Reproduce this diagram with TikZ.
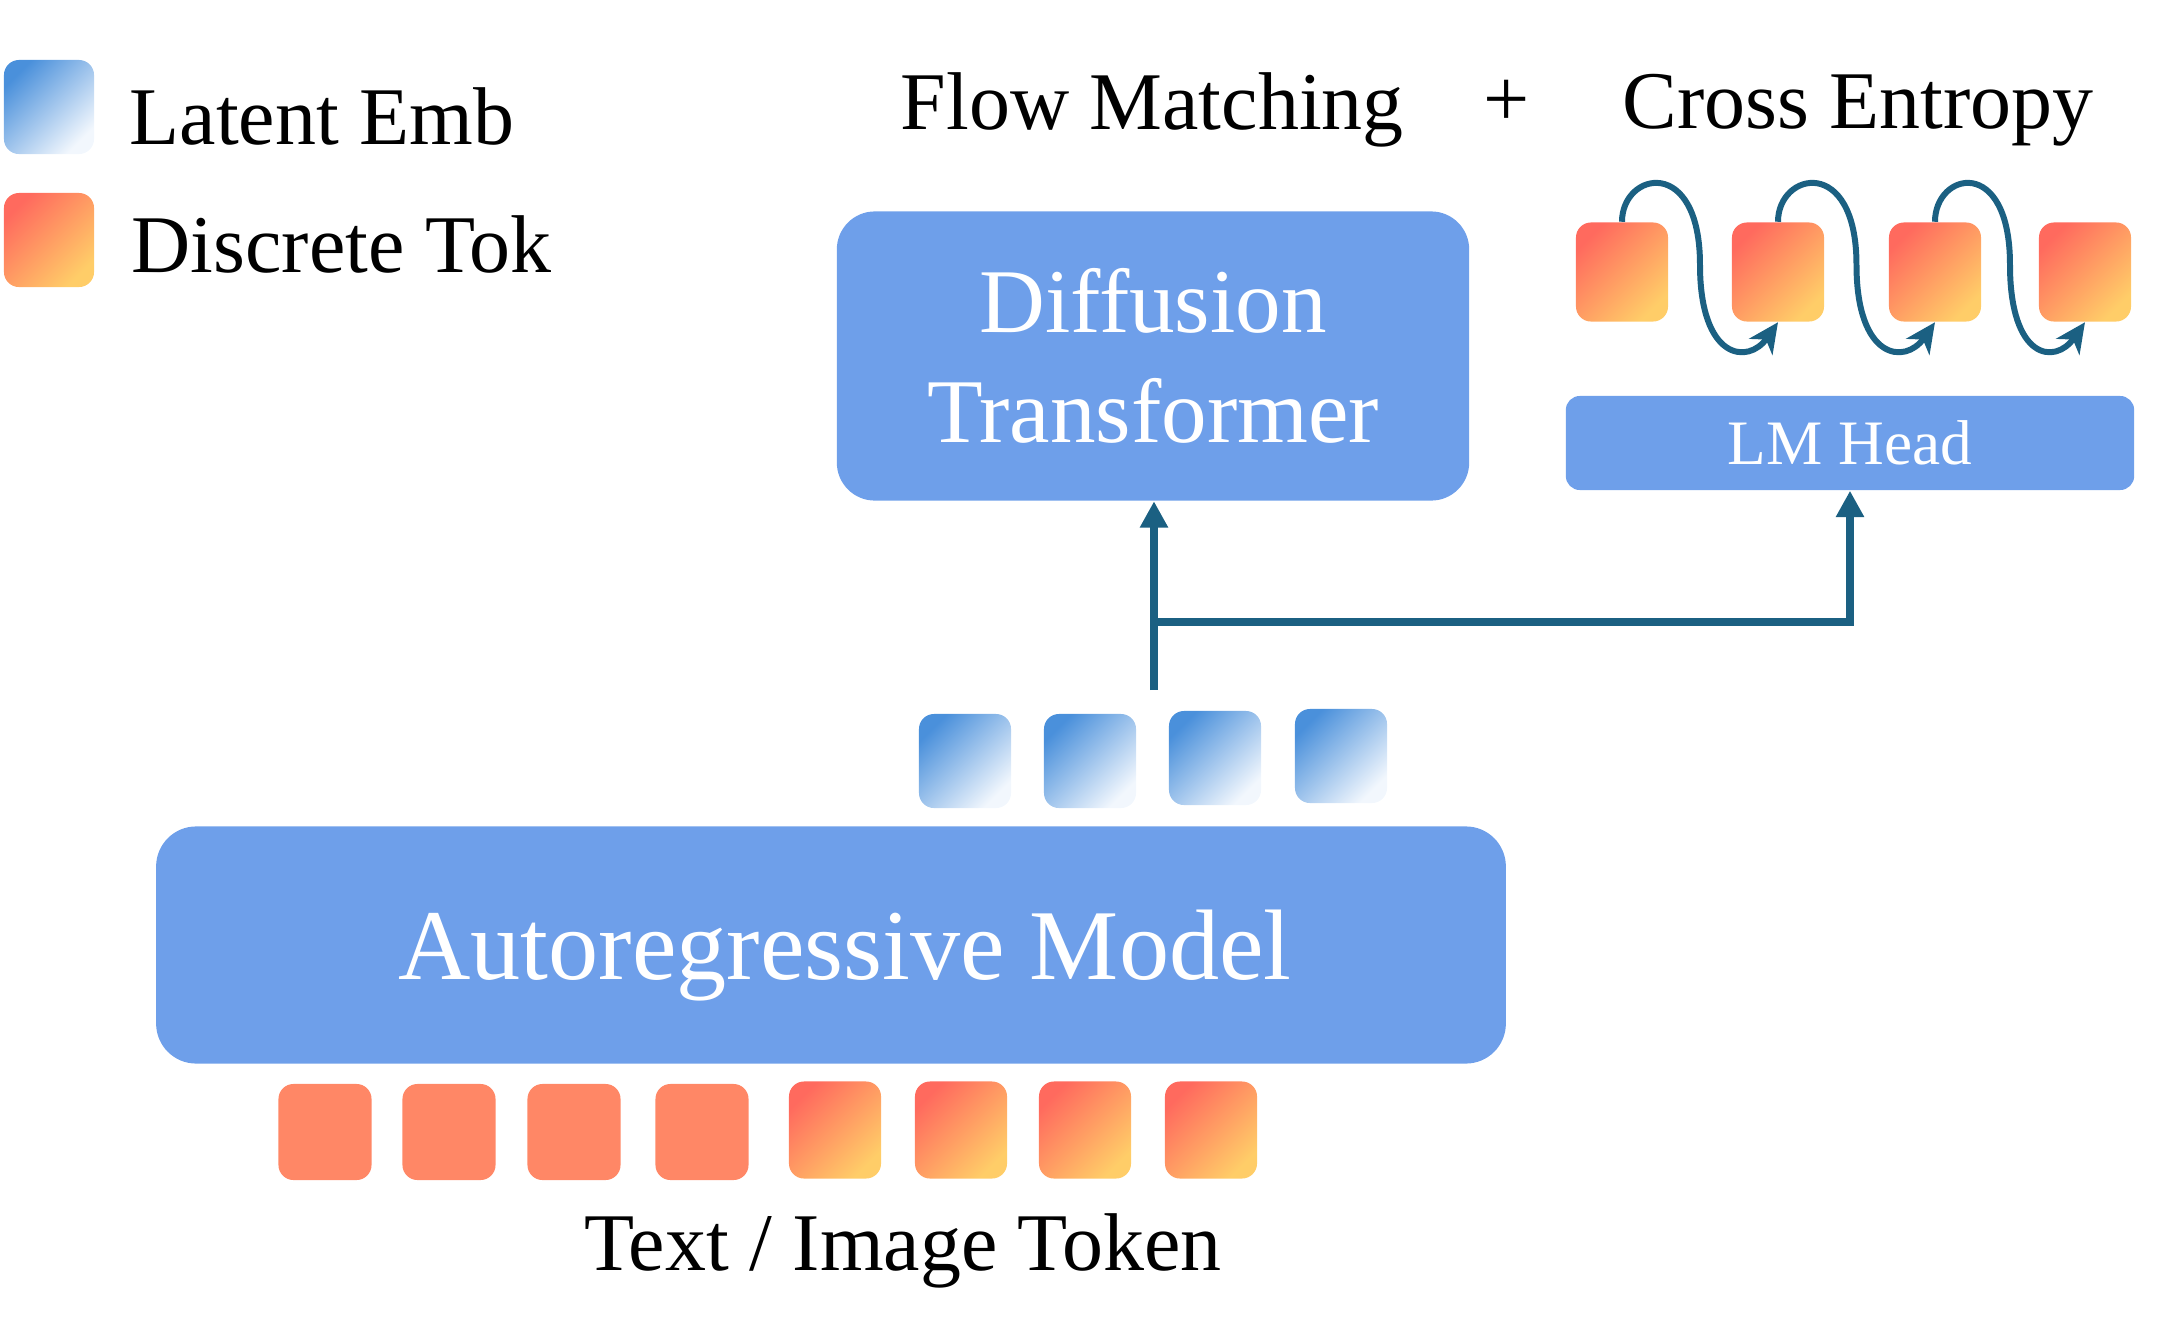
\documentclass[tikz,border=0pt]{standalone}
\usepackage{fontspec}
\setmainfont{Liberation Serif}
\usepackage{xcolor}
\usepackage{tikz}
\usetikzlibrary{shapes.geometric, arrows.meta, positioning, calc}
\definecolor{BlockBlue}{HTML}{6E9FEA}
\definecolor{LinkTeal}{HTML}{1B6082}
\definecolor{EmbDeep}{HTML}{4A90DB}
\definecolor{EmbPale}{HTML}{F2F7FD}
\definecolor{TokRed}{HTML}{FF6A5E}
\definecolor{TokGold}{HTML}{FFCD68}
\definecolor{TokFlat}{HTML}{FF8766}

\begin{document}
\begin{tikzpicture}[x=0.01cm, y=-0.01cm]
    \tikzstyle{block} = [rectangle, fill=BlockBlue, text=white, inner sep=0pt, align=center]
    \tikzstyle{emb} = [rectangle, rounded corners=0.15cm, minimum width=0.92cm, minimum height=0.94cm, inner sep=0pt, top color=EmbDeep, bottom color=EmbPale, shading angle=45]
    \tikzstyle{tok} = [rectangle, rounded corners=0.15cm, minimum width=0.92cm, minimum height=0.97cm, inner sep=0pt, top color=TokRed, bottom color=TokGold, shading angle=45]
    \tikzstyle{flattok} = [rectangle, rounded corners=0.15cm, minimum width=0.93cm, minimum height=0.96cm, inner sep=0pt, fill=TokFlat]
    \tikzstyle{caption} = [inner sep=0pt, font=\fontsize{23.3}{28}\selectfont]
    \tikzstyle{arrow} = [line width=2pt, draw=LinkTeal, -{Triangle[length=7.5pt,width=7.6pt]}]
    \tikzstyle{hop} = [line width=1.7pt, draw=LinkTeal, -{Stealth[length=8.5pt,width=8pt,inset=2.5pt]}]

    \useasboundingbox (0,0) rectangle (2177,1342);

    % legend
    \node (legemb) [emb, minimum width=0.9cm] at (49,107) {};
    \node (legtok) [tok, minimum width=0.9cm, minimum height=0.94cm] at (49,240) {};
    \node (legembtxt) [caption, anchor=base west] at (129,144) {Latent Emb};
    \node (legtoktxt) [caption, anchor=base west] at (131,272) {Discrete Tok};

    % losses
    \node (flow) [caption, anchor=base west] at (900,129) {Flow Matching};
    \node (plus) [caption, anchor=base] at (1507,126) {+};
    \node (xent) [caption, anchor=base west] at (1622,128) {Cross Entropy};

    % blocks
    \node (dit) [block, minimum width=6.32cm, minimum height=2.89cm, rounded corners=0.38cm, font=\fontsize{25.9}{31.3}\selectfont] at (1153,356) {Diffusion\\Transformer};
    \node (lm) [block, minimum width=5.68cm, minimum height=0.94cm, rounded corners=0.14cm, font=\fontsize{18}{22}\selectfont] at (1850,443) {LM Head};
    \node (ar) [block, minimum width=13.49cm, minimum height=2.37cm, rounded corners=0.4cm, text depth=0pt, font=\fontsize{28.5}{34}\selectfont] at (831,945) {\hspace*{0.28cm}Autoregressive Model};

    % latent embeddings
    \foreach \n/\x/\y in {1/965/761, 2/1090/761, 3/1215/758, 4/1341/756}
        \node (emb\n) [emb] at (\x,\y) {};

    % input tokens
    \foreach \n/\x in {1/325, 2/449, 3/574, 4/702}
        \node (txt\n) [flattok] at (\x,1132) {};
    \foreach \n/\x in {5/835, 6/961, 7/1085, 8/1211}
        \node (txt\n) [tok] at (\x,1130) {};
    \node (tokcap) [caption, anchor=base] at (903,1270) {Text / Image Token};

    % predicted tokens
    \foreach \n/\x in {1/1622, 2/1778, 3/1935, 4/2085}
        \node (out\n) [tok, minimum height=0.99cm] at (\x,272) {};
    \foreach \a/\b in {out1/out2, out2/out3, out3/out4}
        \draw [hop] (\a.north) .. controls +(0,-50) and +(0,-110) .. ($(\a.north)!0.5!(\b.north)+(0,43)$) .. controls +(0,95) and +(-30,43) .. (\b.south);

    % connectors
    \coordinate (src) at (1154,690);
    \coordinate (fork) at (1154,622);
    \draw [arrow] (src) -- (src |- dit.south);
    \draw [arrow] (fork) -| (lm.south);

\end{tikzpicture}
\end{document}
